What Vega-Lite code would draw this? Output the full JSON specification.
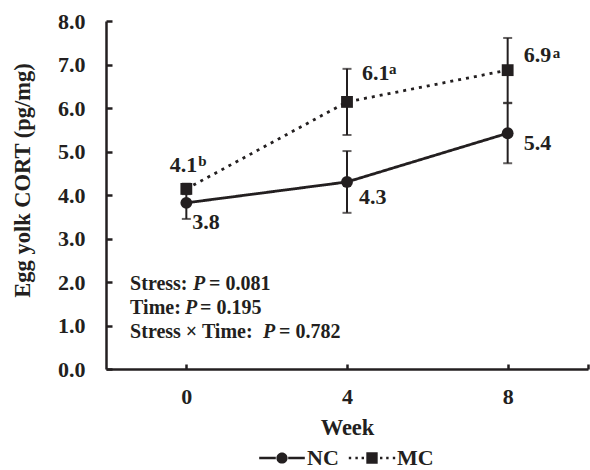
{
  "$schema": "https://vega.github.io/schema/vega-lite/v6.json",
  "width": 482,
  "height": 348,
  "autosize": {"type": "none"},
  "padding": {"left": 106, "top": 21, "right": 2, "bottom": 101},
  "background": "white",
  "config": {
    "view": {"stroke": null},
    "font": "Liberation Serif",
    "axis": {
      "grid": false,
      "domainColor": "#231f20",
      "domainWidth": 2.5,
      "tickColor": "#231f20",
      "tickWidth": 2.5,
      "labelFont": "Liberation Serif",
      "labelFontWeight": "bold",
      "labelFontSize": 22,
      "labelColor": "#231f20",
      "titleFont": "Liberation Serif",
      "titleFontWeight": "bold",
      "titleFontSize": 22.5,
      "titleColor": "#231f20"
    }
  },
  "datasets": {
    "cort": [
      {"group": "NC", "week": 0, "mean": 3.82, "lo": 3.45, "hi": 4.19, "label": "3.8", "sup": ""},
      {"group": "NC", "week": 4, "mean": 4.30, "lo": 3.59, "hi": 5.01, "label": "4.3", "sup": ""},
      {"group": "NC", "week": 8, "mean": 5.42, "lo": 4.73, "hi": 6.11, "label": "5.4", "sup": ""},
      {"group": "MC", "week": 0, "mean": 4.14, "lo": 4.02, "hi": 4.26, "label": "4.1", "sup": "b"},
      {"group": "MC", "week": 4, "mean": 6.14, "lo": 5.38, "hi": 6.90, "label": "6.1", "sup": "a"},
      {"group": "MC", "week": 8, "mean": 6.87, "lo": 6.12, "hi": 7.61, "label": "6.9", "sup": "a"}
    ]
  },
  "data": {"name": "cort"},
  "encoding": {
    "x": {
      "field": "week",
      "type": "quantitative",
      "scale": {"domain": [-2, 10], "nice": false, "zero": false},
      "axis": {
        "values": [0, 4, 8, 10],
        "labelExpr": "datum.value == 10 ? '' : datum.label",
        "tickSize": -5,
        "labelPadding": 22,
        "title": "Week",
        "titleY": 58,
        "titleBaseline": "middle"
      }
    },
    "y": {
      "field": "mean",
      "type": "quantitative",
      "scale": {"domain": [0, 8], "nice": false},
      "axis": {
        "values": [0, 1, 2, 3, 4, 5, 6, 7, 8],
        "format": ".1f",
        "tickSize": -6,
        "labelPadding": 27,
        "title": "Egg yolk CORT (pg/mg)",
        "titleX": -84,
        "titleY": 159,
        "titleBaseline": "middle"
      }
    }
  },
  "layer": [
    {
      "mark": {"type": "line", "color": "#231f20", "strokeWidth": 2.8},
      "encoding": {
        "detail": {"field": "group"},
        "strokeDash": {
          "field": "group",
          "type": "nominal",
          "scale": {"domain": ["NC", "MC"], "range": [[1, 0], [3, 5]]},
          "legend": null
        }
      }
    },
    {
      "mark": {"type": "rule", "color": "#231f20", "strokeWidth": 2},
      "encoding": {"y": {"field": "lo", "type": "quantitative"}, "y2": {"field": "hi"}}
    },
    {
      "mark": {"type": "tick", "orient": "horizontal", "color": "#231f20", "size": 9, "thickness": 2},
      "encoding": {"y": {"field": "lo", "type": "quantitative"}}
    },
    {
      "mark": {"type": "tick", "orient": "horizontal", "color": "#231f20", "size": 9, "thickness": 2},
      "encoding": {"y": {"field": "hi", "type": "quantitative"}}
    },
    {
      "mark": {"type": "point", "filled": true, "color": "#231f20", "opacity": 1, "size": 140},
      "encoding": {
        "shape": {
          "field": "group",
          "type": "nominal",
          "scale": {"domain": ["NC", "MC"], "range": ["circle", "square"]},
          "legend": null
        }
      }
    },
    {
      "mark": {"type": "point", "filled": true, "color": "#231f20", "opacity": 0, "size": 64},
      "encoding": {
        "shape": {
          "field": "group",
          "type": "nominal",
          "scale": {
            "domain": ["NC", "MC"],
            "range": [
              "M-5.7,-0.31L-1.55,-0.31L-1.55,0.31L-5.7,0.31Z M1.55,-0.31L5.7,-0.31L5.7,0.31L1.55,0.31Z M-1.4,0A1.4,1.4,0,1,0,1.4,0A1.4,1.4,0,1,0,-1.4,0Z",
              "M-1.42,-1.42L1.42,-1.42L1.42,1.42L-1.42,1.42Z M-5.8,-0.3L-5.2,-0.3L-5.2,0.3L-5.8,0.3Z M-4.15,-0.3L-3.55,-0.3L-3.55,0.3L-4.15,0.3Z M-2.6,-0.3L-2.0,-0.3L-2.0,0.3L-2.6,0.3Z M2.0,-0.3L2.6,-0.3L2.6,0.3L2.0,0.3Z M3.55,-0.3L4.15,-0.3L4.15,0.3L3.55,0.3Z M5.2,-0.3L5.8,-0.3L5.8,0.3L5.2,0.3Z"
            ]
          },
          "legend": {
            "title": null,
            "orient": "none",
            "legendX": 165,
            "legendY": 426,
            "direction": "horizontal",
            "padding": 0,
            "symbolSize": 64,
            "symbolFillColor": "#231f20",
            "symbolStrokeWidth": 0,
            "symbolOpacity": 1,
            "symbolOffset": 0,
            "labelOffset": 14,
            "columnPadding": 9,
            "labelFont": "Liberation Serif",
            "labelFontWeight": "bold",
            "labelFontSize": 22,
            "labelColor": "#231f20"
          }
        }
      }
    },
    {
      "transform": [{"filter": "datum.group == 'NC' && datum.week == 0"}],
      "mark": {"type": "text", "align": "left", "baseline": "middle", "dx": 6, "dy": 19, "font": "Liberation Serif", "fontWeight": "bold", "fontSize": 22, "color": "#231f20"},
      "encoding": {"text": {"field": "label"}}
    },
    {
      "transform": [{"filter": "datum.group == 'MC' && datum.week == 0"}],
      "mark": {"type": "text", "align": "right", "baseline": "middle", "dx": 11, "dy": -24, "font": "Liberation Serif", "fontWeight": "bold", "fontSize": 22, "color": "#231f20"},
      "encoding": {"text": {"field": "label"}}
    },
    {
      "transform": [{"filter": "datum.group == 'MC' && datum.week == 0"}],
      "mark": {"type": "text", "align": "left", "baseline": "middle", "dx": 12, "dy": -28, "font": "Liberation Serif", "fontWeight": "bold", "fontSize": 15, "color": "#231f20"},
      "encoding": {"text": {"field": "sup"}}
    },
    {
      "transform": [{"filter": "datum.group == 'MC' && datum.week == 4"}],
      "mark": {"type": "text", "align": "left", "baseline": "middle", "dx": 15, "dy": -29, "font": "Liberation Serif", "fontWeight": "bold", "fontSize": 22, "color": "#231f20"},
      "encoding": {"text": {"field": "label"}}
    },
    {
      "transform": [{"filter": "datum.group == 'MC' && datum.week == 4"}],
      "mark": {"type": "text", "align": "left", "baseline": "middle", "dx": 42, "dy": -33, "font": "Liberation Serif", "fontWeight": "bold", "fontSize": 15, "color": "#231f20"},
      "encoding": {"text": {"field": "sup"}}
    },
    {
      "transform": [{"filter": "datum.group == 'NC' && datum.week == 4"}],
      "mark": {"type": "text", "align": "left", "baseline": "middle", "dx": 12, "dy": 15, "font": "Liberation Serif", "fontWeight": "bold", "fontSize": 22, "color": "#231f20"},
      "encoding": {"text": {"field": "label"}}
    },
    {
      "transform": [{"filter": "datum.group == 'MC' && datum.week == 8"}],
      "mark": {"type": "text", "align": "left", "baseline": "middle", "dx": 16, "dy": -15, "font": "Liberation Serif", "fontWeight": "bold", "fontSize": 22, "color": "#231f20"},
      "encoding": {"text": {"field": "label"}}
    },
    {
      "transform": [{"filter": "datum.group == 'MC' && datum.week == 8"}],
      "mark": {"type": "text", "align": "left", "baseline": "middle", "dx": 45, "dy": -17, "font": "Liberation Serif", "fontWeight": "bold", "fontSize": 15, "color": "#231f20"},
      "encoding": {"text": {"field": "sup"}}
    },
    {
      "transform": [{"filter": "datum.group == 'NC' && datum.week == 8"}],
      "mark": {"type": "text", "align": "left", "baseline": "middle", "dx": 16, "dy": 10, "font": "Liberation Serif", "fontWeight": "bold", "fontSize": 22, "color": "#231f20"},
      "encoding": {"text": {"field": "label"}}
    },
    {
      "transform": [{"filter": "datum.group == 'NC' && datum.week == 0"}],
      "mark": {"type": "text", "align": "left", "baseline": "middle", "font": "Liberation Serif", "fontWeight": "bold", "fontSize": 20, "color": "#231f20"},
      "encoding": {"x": {"datum": -1.4}, "y": {"datum": 1.947}, "text": {"value": "Stress:"}}
    },
    {
      "transform": [{"filter": "datum.group == 'NC' && datum.week == 0"}],
      "mark": {"type": "text", "align": "left", "baseline": "middle", "dx": 63, "font": "Liberation Serif", "fontWeight": "bold", "fontStyle": "italic", "fontSize": 20, "color": "#231f20"},
      "encoding": {"x": {"datum": -1.4}, "y": {"datum": 1.947}, "text": {"value": "P"}}
    },
    {
      "transform": [{"filter": "datum.group == 'NC' && datum.week == 0"}],
      "mark": {"type": "text", "align": "left", "baseline": "middle", "dx": 79, "font": "Liberation Serif", "fontWeight": "bold", "fontSize": 20, "color": "#231f20"},
      "encoding": {"x": {"datum": -1.4}, "y": {"datum": 1.947}, "text": {"value": "= 0.081"}}
    },
    {
      "transform": [{"filter": "datum.group == 'NC' && datum.week == 0"}],
      "mark": {"type": "text", "align": "left", "baseline": "middle", "font": "Liberation Serif", "fontWeight": "bold", "fontSize": 20, "color": "#231f20"},
      "encoding": {"x": {"datum": -1.4}, "y": {"datum": 1.395}, "text": {"value": "Time:"}}
    },
    {
      "transform": [{"filter": "datum.group == 'NC' && datum.week == 0"}],
      "mark": {"type": "text", "align": "left", "baseline": "middle", "dx": 55, "font": "Liberation Serif", "fontWeight": "bold", "fontStyle": "italic", "fontSize": 20, "color": "#231f20"},
      "encoding": {"x": {"datum": -1.4}, "y": {"datum": 1.395}, "text": {"value": "P"}}
    },
    {
      "transform": [{"filter": "datum.group == 'NC' && datum.week == 0"}],
      "mark": {"type": "text", "align": "left", "baseline": "middle", "dx": 70, "font": "Liberation Serif", "fontWeight": "bold", "fontSize": 20, "color": "#231f20"},
      "encoding": {"x": {"datum": -1.4}, "y": {"datum": 1.395}, "text": {"value": "= 0.195"}}
    },
    {
      "transform": [{"filter": "datum.group == 'NC' && datum.week == 0"}],
      "mark": {"type": "text", "align": "left", "baseline": "middle", "font": "Liberation Serif", "fontWeight": "bold", "fontSize": 20, "color": "#231f20"},
      "encoding": {"x": {"datum": -1.4}, "y": {"datum": 0.858}, "text": {"value": "Stress  ×  Time:"}}
    },
    {
      "transform": [{"filter": "datum.group == 'NC' && datum.week == 0"}],
      "mark": {"type": "text", "align": "left", "baseline": "middle", "dx": 133, "font": "Liberation Serif", "fontWeight": "bold", "fontStyle": "italic", "fontSize": 20, "color": "#231f20"},
      "encoding": {"x": {"datum": -1.4}, "y": {"datum": 0.858}, "text": {"value": "P"}}
    },
    {
      "transform": [{"filter": "datum.group == 'NC' && datum.week == 0"}],
      "mark": {"type": "text", "align": "left", "baseline": "middle", "dx": 149, "font": "Liberation Serif", "fontWeight": "bold", "fontSize": 20, "color": "#231f20"},
      "encoding": {"x": {"datum": -1.4}, "y": {"datum": 0.858}, "text": {"value": "= 0.782"}}
    }
  ],
  "resolve": {"scale": {"shape": "independent"}, "legend": {"shape": "independent"}}
}
